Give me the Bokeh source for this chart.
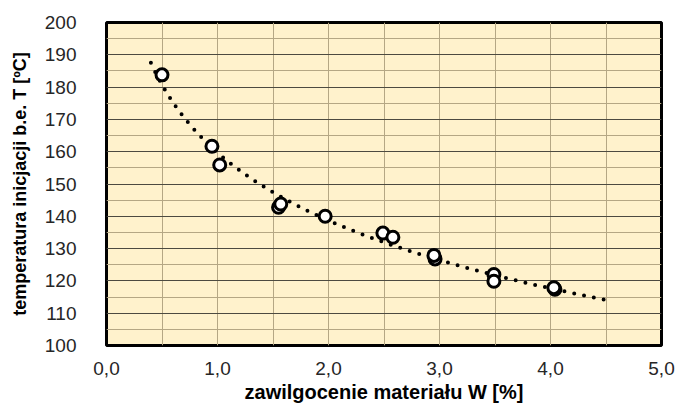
import numpy as np
from bokeh.plotting import figure
from bokeh.models import FixedTicker, CustomJSTickFormatter, Range1d
from bokeh.embed import file_html
from bokeh.resources import INLINE

# data
W = [0.50, 0.95, 1.02, 1.55, 1.57, 1.97, 2.49, 2.58, 2.96, 2.95, 3.49, 3.49, 4.04, 4.03]
T = [183.8, 161.7, 155.9, 142.8, 143.8, 140.0, 134.8, 133.5, 126.8, 127.9, 122.0, 119.9, 117.4, 117.9]
x_ticks = [0, 1, 2, 3, 4, 5]
y_ticks = [100, 110, 120, 130, 140, 150, 160, 170, 180, 190, 200]
trend_from, trend_to = 0.4, 4.5

x_label = "zawilgocenie materiału W [%]"
y_label = "temperatura inicjacji b.e. T [ºC]"

FONT = "Liberation Sans"

p = figure(width=676, height=410, output_backend="svg", toolbar_location=None,
           x_range=Range1d(0, 5), y_range=Range1d(100, 200))
p.min_border_left = 106
p.min_border_right = 15
p.min_border_top = 22
p.min_border_bottom = 65
p.background_fill_color = "#FFF2CC"
p.border_fill_color = "white"
p.outline_line_color = "black"
p.outline_line_width = 3

# logarithmic trend line (least squares from the data)
b, a = np.polyfit(np.log(W), T, 1)
xs = np.linspace(trend_from, trend_to, 300)
ys = a + b * np.log(xs)
p.line(xs, ys, line_color="black", line_width=4, line_dash="0 10", line_cap="round")

p.scatter(W, T, size=12, marker="circle", fill_color="white", line_color="black", line_width=3)

# axes
p.xaxis.ticker = FixedTicker(ticks=x_ticks)
p.yaxis.ticker = FixedTicker(ticks=y_ticks)
p.xaxis.formatter = CustomJSTickFormatter(code="return tick.toFixed(1).replace('.', ',');")
for ax in (p.xaxis, p.yaxis):
    ax.axis_line_color = None
    ax.major_tick_line_color = None
    ax.minor_tick_line_color = None
    ax.major_label_text_font = FONT
    ax.major_label_text_font_size = "19px"
    ax.major_label_text_color = "#262626"
    ax.axis_label_text_font = FONT
    ax.axis_label_text_font_style = "bold"
    ax.axis_label_text_color = "black"
p.xaxis.axis_label = x_label
p.yaxis.axis_label = y_label
p.xaxis.axis_label_text_font_size = "20px"
p.yaxis.axis_label_text_font_size = "18px"
p.xaxis.major_label_standoff = 10
p.yaxis.major_label_standoff = 24
p.xaxis.axis_label_standoff = 3
p.yaxis.axis_label_standoff = 12

# grid
p.xgrid.ticker = FixedTicker(ticks=[0.5, 1, 1.5, 2, 2.5, 3, 3.5, 4, 4.5])
p.xgrid.grid_line_color = "#B5A784"
p.xgrid.grid_line_width = 1
p.ygrid.ticker = FixedTicker(ticks=y_ticks, minor_ticks=[105, 115, 125, 135, 145, 155, 165, 175, 185, 195])
p.ygrid.grid_line_color = "#4D4A40"
p.ygrid.grid_line_width = 1
p.ygrid.minor_grid_line_color = "#B5A784"
p.ygrid.minor_grid_line_width = 1

open("out.html", "w").write(file_html(p, INLINE))
